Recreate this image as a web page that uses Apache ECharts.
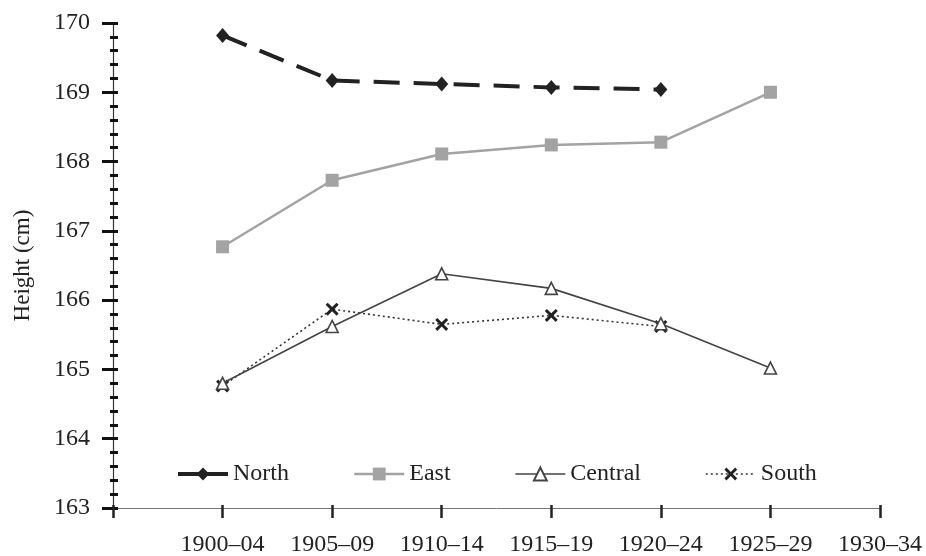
<!DOCTYPE html>
<html>
<head>
<meta charset="utf-8">
<script src="https://cdn.jsdelivr.net/npm/echarts@6/dist/echarts.min.js"></script>
<style>
  html, body { margin: 0; padding: 0; background: #fff; }
  #chart { width: 926px; height: 556px; }
</style>
</head>
<body>
<div id="chart"></div>
<script>
// Period labels along the horizontal axis
const categories = ['1900–04', '1905–09', '1910–14', '1915–19', '1920–24', '1925–29', '1930–34'];

// Mean height (cm) by region and birth period
const north   = [169.82, 169.17, 169.12, 169.07, 169.04];
const east    = [166.77, 167.73, 168.11, 168.24, 168.28, 169.00];
const central = [164.80, 165.62, 166.38, 166.17, 165.66, 165.02];
const south   = [164.76, 165.87, 165.65, 165.78, 165.62];

// Vertical scale
const yMin = 163, yMax = 170, yStep = 1;

const FONT = "'Liberation Serif', 'Times New Roman', serif";

// Periods sit at positions 1..n; position 0 is the origin corner
const toPoints = vals => vals.map((v, i) => [i + 1, v]);

const crossPath = 'path://M0,1.6L1.6,0L5,3.4L8.4,0L10,1.6L6.6,5L10,8.4L8.4,10L5,6.6L1.6,10L0,8.4L3.4,5Z';

const chart = echarts.init(document.getElementById('chart'), null, { renderer: 'canvas' });

const xBase = {
  type: 'value', min: 0, max: categories.length, interval: 1,
  splitLine: { show: false }
};
const yBase = {
  type: 'value', min: yMin, max: yMax, interval: yStep,
  position: 'left', splitLine: { show: false }
};

chart.setOption({
  animation: false,
  backgroundColor: '#fff',
  textStyle: { fontFamily: FONT },
  grid: { left: 113, right: 46, top: 23, bottom: 48, containLabel: false, outerBoundsMode: 'none' },
  legend: {
    left: 171, top: 457,
    itemWidth: 50, itemHeight: 16, itemGap: 64,
    textStyle: { fontFamily: FONT, fontSize: 24, color: '#222' },
    data: [
      { name: 'North', lineStyle: { type: 'solid', width: 4 } },
      { name: 'East', lineStyle: { width: 2.5 } },
      { name: 'Central', lineStyle: { width: 1.6 } },
      { name: 'South', lineStyle: { width: 1.6 } }
    ]
  },
  xAxis: [
    Object.assign({}, xBase, {
      axisLine: { show: true, onZero: false, lineStyle: { color: '#777', width: 1 } },
      axisTick: { show: true, inside: false, length: 10, lineStyle: { color: '#222', width: 2.5 } },
      axisLabel: {
        margin: 25, fontFamily: FONT, fontSize: 24, color: '#222',
        formatter: v => categories[v - 1] || ''
      }
    }),
    Object.assign({}, xBase, {
      position: 'bottom',
      axisLine: { show: false, onZero: false },
      axisTick: { show: true, inside: true, length: 3, lineStyle: { color: '#222', width: 2.5 } },
      axisLabel: { show: false }
    })
  ],
  yAxis: [
    Object.assign({}, yBase, {
      name: 'Height (cm)',
      nameLocation: 'middle',
      nameGap: 79,
      nameTextStyle: { fontFamily: FONT, fontSize: 23, color: '#222' },
      axisLine: { show: true, onZero: false, lineStyle: { color: '#333', width: 1.2 } },
      axisTick: { show: true, inside: false, length: 11, lineStyle: { color: '#111', width: 3 } },
      minorTick: { show: true, splitNumber: 5, length: 3, lineStyle: { color: '#111', width: 3 } },
      axisLabel: { margin: 23, fontFamily: FONT, fontSize: 24, color: '#222' }
    }),
    Object.assign({}, yBase, {
      axisLine: { show: false, onZero: false },
      axisTick: { show: true, inside: true, length: 5, lineStyle: { color: '#111', width: 3 } },
      minorTick: { show: true, splitNumber: 5, length: 5, lineStyle: { color: '#111', width: 3 } },
      axisLabel: { show: false }
    })
  ],
  series: [
    {
      name: 'North', type: 'line', data: toPoints(north),
      symbol: 'diamond', symbolSize: [13, 15],
      itemStyle: { color: '#222' },
      lineStyle: { color: '#222', width: 4, type: [26, 14] },
      z: 5
    },
    {
      name: 'East', type: 'line', data: toPoints(east),
      symbol: 'rect', symbolSize: 13,
      itemStyle: { color: '#a3a3a3' },
      lineStyle: { color: '#a3a3a3', width: 2.5 },
      z: 3
    },
    {
      name: 'Central', type: 'line', data: toPoints(central),
      symbol: 'triangle', symbolSize: 12,
      itemStyle: { color: '#fff', borderColor: '#444', borderWidth: 1.6 },
      lineStyle: { color: '#444', width: 1.6 },
      z: 4
    },
    {
      name: 'South', type: 'line', data: toPoints(south),
      symbol: crossPath, symbolSize: 13,
      itemStyle: { color: '#222' },
      lineStyle: { color: '#333', width: 1.6, type: [2, 3] },
      z: 3
    }
  ]
});
</script>
</body>
</html>
